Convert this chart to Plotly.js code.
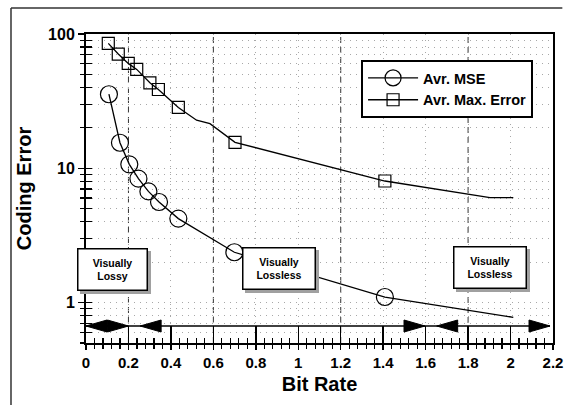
<!DOCTYPE html>
<html>
<head>
<meta charset="utf-8">
<script src="https://cdn.plot.ly/plotly-3.0.1.min.js"></script>
<style>html,body{margin:0;padding:0;background:#fff;}#chart{width:566px;height:405px;}</style>
</head>
<body>
<div id="chart"></div>
<script>
// ---- data ----
const mseBitRate   = [0.108, 0.160, 0.204, 0.247, 0.294, 0.344, 0.435, 0.699, 1.408, 2.013];
const mseError     = [35.6, 15.5, 10.7, 8.37, 6.73, 5.61, 4.22, 2.37, 1.10, 0.776];
const mseMarked    = [1, 1, 1, 1, 1, 1, 1, 1, 1, 0];

const maxBitRate   = [0.105, 0.152, 0.199, 0.239, 0.301, 0.341, 0.435, 0.521, 0.584, 0.702, 1.408, 1.903, 2.013];
const maxError     = [85.1, 70.9, 60.4, 54.5, 43.3, 38.6, 28.4, 22.8, 21.5, 15.6, 8.04, 6.04, 6.04];
const maxMarked    = [1, 1, 1, 1, 1, 1, 1, 0, 0, 1, 1, 0, 0];

const seriesNames  = ['Avr. MSE', 'Avr. Max. Error'];
const xTickVals    = [0, 0.2, 0.4, 0.6, 0.8, 1, 1.2, 1.4, 1.6, 1.8, 2, 2.2];
const xTickText    = ['0', '0.2', '0.4', '0.6', '0.8', '1', '1.2', '1.4', '1.6', '1.8', '2', '2.2'];
const yTickVals    = [1, 10, 100];
const yTickText    = ['1', '10', '100'];
const dashedGrid   = [0.2, 0.6, 1.2, 1.8];

// region annotations (bit-rate ranges)
const regionLabels = ['Visually<br>Lossy', 'Visually<br>Lossless', 'Visually<br>Lossless'];
const regionCenter = [0.127, 0.911, 1.905];
const arrowLeftTips  = [0, 0.255, 1.652];
const arrowRightTips = [0.2, 1.597, 2.186];

// ---- build ----
const FONT = 'Liberation Sans, Arial, Helvetica, sans-serif';
const BLACK = '#000';
const clear = 'rgba(0,0,0,0)';
const lineCols = flags => flags.map(f => f ? BLACK : clear);

const traces = [
  {
    x: mseBitRate, y: mseError, name: seriesNames[0], type: 'scatter', mode: 'lines+markers',
    line: {color: BLACK, width: 1.3},
    marker: {symbol: 'circle', size: 17, color: clear, line: {color: lineCols(mseMarked), width: 1.2}},
    hoverinfo: 'skip'
  },
  {
    x: maxBitRate, y: maxError, name: seriesNames[1], type: 'scatter', mode: 'lines+markers',
    line: {color: BLACK, width: 1.3},
    marker: {symbol: 'square', size: 12, color: clear, line: {color: lineCols(maxMarked), width: 1.2}},
    hoverinfo: 'skip'
  },
  // empty trace holding the overlay axes used for the inward half of the crossing ticks
  {x: [], y: [], xaxis: 'x2', yaxis: 'y2', type: 'scatter', mode: 'markers', showlegend: false, hoverinfo: 'skip'}
];

const yRange = [Math.log10(0.5), 2];
const xRange = [0, 2.2];
const GRID = '#a8a8a8';
const GRIDDASH = '1px,5px';

const shapes = [];
// dashed vertical reference lines
dashedGrid.forEach(v => shapes.push({
  type: 'line', xref: 'x', yref: 'paper', x0: v, x1: v, y0: 0, y1: 1,
  line: {color: '#333', width: 1, dash: '6px,4px'}, layer: 'below'
}));
// region arrow baseline
const arrowY = 0.055;
shapes.push({type: 'line', xref: 'x', yref: 'paper', x0: arrowLeftTips[0], x1: arrowRightTips[arrowRightTips.length - 1],
  y0: arrowY, y1: arrowY, line: {color: BLACK, width: 1.5}});
arrowLeftTips.forEach(v => shapes.push({
  type: 'path', xref: 'x', yref: 'paper', xsizemode: 'pixel', ysizemode: 'pixel',
  xanchor: v, yanchor: arrowY, path: 'M0,0 L21,6 L21,-6 Z',
  fillcolor: BLACK, line: {color: BLACK, width: 1}
}));
arrowRightTips.forEach(v => shapes.push({
  type: 'path', xref: 'x', yref: 'paper', xsizemode: 'pixel', ysizemode: 'pixel',
  xanchor: v, yanchor: arrowY, path: 'M0,0 L-21,6 L-21,-6 Z',
  fillcolor: BLACK, line: {color: BLACK, width: 1}
}));
// outer frame of the figure (left and top edges)
shapes.push({type: 'line', xref: 'paper', yref: 'paper', x0: -0.1606, x1: -0.1606, y0: -0.21, y1: 1.084,
  line: {color: '#333', width: 1.5}});
shapes.push({type: 'line', xref: 'paper', yref: 'paper', x0: -0.1606, x1: 1.02, y0: 1.084, y1: 1.084,
  line: {color: '#333', width: 1.5}});

const annotations = [];
const boxY = [0.168, 0.170, 0.175];
const boxW = [66, 69, 69];
regionLabels.forEach((t, i) => {
  // shadow
  annotations.push({
    x: regionCenter[i], y: boxY[i], xref: 'x', yref: 'paper', text: ' ', showarrow: false,
    width: boxW[i], height: 38, bgcolor: '#a0a0a0', borderpad: 1, borderwidth: 1.5, bordercolor: '#a0a0a0',
    xshift: 3, yshift: -3, font: {size: 10}
  });
  annotations.push({
    x: regionCenter[i], y: boxY[i], xref: 'x', yref: 'paper', text: t, showarrow: false,
    width: boxW[i], height: 38, bgcolor: '#fff', borderpad: 1, borderwidth: 1.5, bordercolor: BLACK,
    font: {family: FONT, size: 10.5, color: BLACK, weight: 'bold'}
  });
});

const layout = {
  width: 566, height: 405,
  margin: {l: 86, r: 13, t: 34, b: 62, pad: 0},
  paper_bgcolor: '#fff', plot_bgcolor: '#fff',
  font: {family: FONT, color: BLACK},
  showlegend: true,
  legend: {
    x: 0.589, y: 0.916, xanchor: 'left', yanchor: 'top',
    bgcolor: '#fff', bordercolor: BLACK, borderwidth: 2,
    font: {family: FONT, size: 14.5, color: BLACK, weight: 'bold'},
    itemwidth: 50, tracegroupgap: 0
  },
  xaxis: {
    range: xRange, type: 'linear',
    tickvals: xTickVals, ticktext: xTickText,
    ticks: 'outside', ticklen: 5, tickwidth: 1.5, tickcolor: BLACK,
    minor: {dtick: 0.04, ticks: 'outside', ticklen: 4, tickwidth: 1.2, tickcolor: BLACK, showgrid: false},
    showline: true, linewidth: 2, linecolor: BLACK, mirror: true,
    showgrid: true, gridcolor: GRID, gridwidth: 1, griddash: GRIDDASH,
    zeroline: false,
    tickfont: {family: FONT, size: 15, color: BLACK, weight: 'bold'},
    title: {text: 'Bit Rate', font: {family: FONT, size: 20, color: BLACK, weight: 'bold'}, standoff: 7}
  },
  yaxis: {
    range: yRange, type: 'log',
    tickvals: yTickVals, ticktext: yTickText,
    ticks: 'outside', ticklen: 6, tickwidth: 1.5, tickcolor: BLACK,
    minor: {dtick: 'D1', ticks: 'outside', ticklen: 4, tickwidth: 1.2, tickcolor: BLACK,
            showgrid: true, gridcolor: GRID, gridwidth: 1, griddash: GRIDDASH},
    showline: true, linewidth: 2, linecolor: BLACK, mirror: true,
    showgrid: true, gridcolor: GRID, gridwidth: 1, griddash: GRIDDASH,
    zeroline: false,
    tickfont: {family: FONT, size: 16, color: BLACK, weight: 'bold'},
    title: {text: 'Coding Error', font: {family: FONT, size: 20, color: BLACK, weight: 'bold'}, standoff: 11}
  },
  xaxis2: {
    overlaying: 'x', anchor: 'y', side: 'bottom', range: xRange, type: 'linear',
    tickvals: xTickVals, ticks: 'inside', ticklen: 17, tickwidth: 1.5, tickcolor: BLACK,
    minor: {dtick: 0.04, ticks: 'inside', ticklen: 5, tickwidth: 1.2, tickcolor: BLACK, showgrid: false},
    showticklabels: false, showgrid: false, showline: false, zeroline: false
  },
  yaxis2: {
    overlaying: 'y', anchor: 'x', side: 'left', range: yRange, type: 'log',
    tickvals: yTickVals, ticks: 'inside', ticklen: 3, tickwidth: 1.5, tickcolor: BLACK,
    minor: {dtick: 'D1', ticks: 'inside', ticklen: 6, tickwidth: 1.2, tickcolor: BLACK, showgrid: false},
    showticklabels: false, showgrid: false, showline: false, zeroline: false
  },
  shapes: shapes,
  annotations: annotations
};

Plotly.newPlot('chart', traces, layout, {staticPlot: true, displayModeBar: false});
</script>
</body>
</html>
